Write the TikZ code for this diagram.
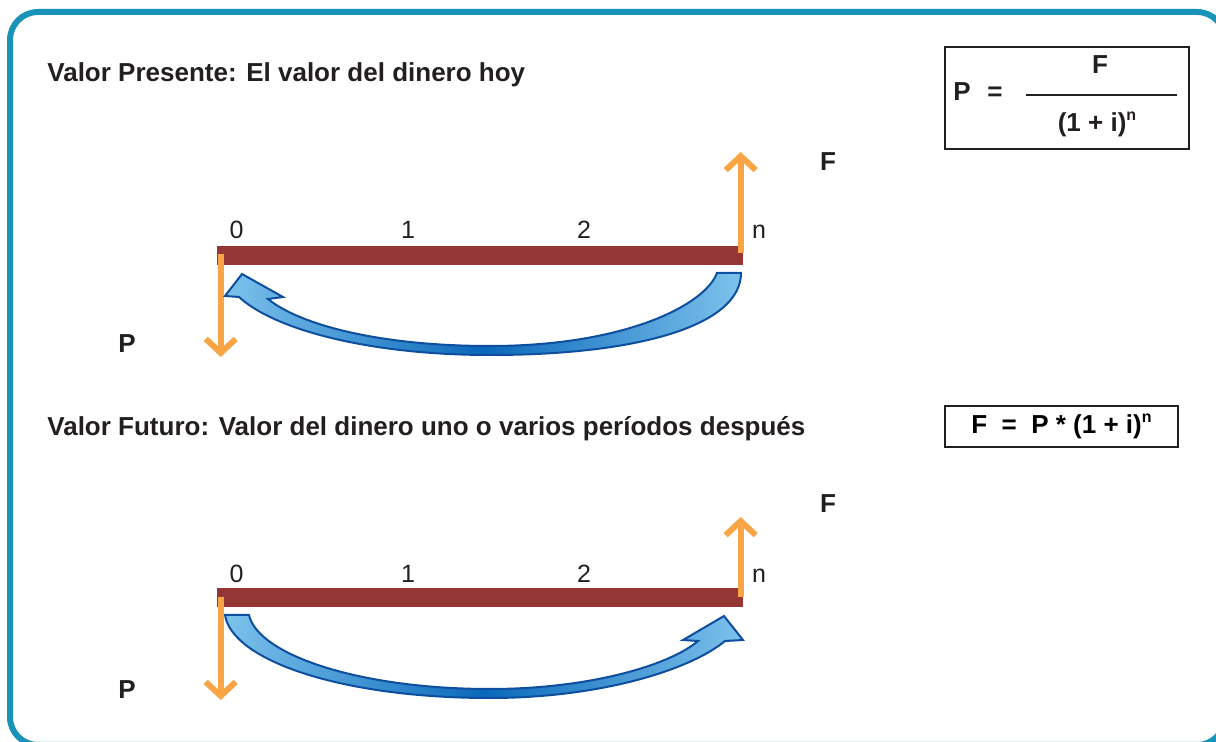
\documentclass[tikz,border=0pt]{standalone}
\usepackage{fontspec}
\setmainfont{Liberation Sans}
\usetikzlibrary{arrows.meta}
\definecolor{frameTeal}{HTML}{1A93B8}
\definecolor{barRed}{HTML}{943634}
\definecolor{cashOrange}{HTML}{F9A546}
\definecolor{flowLight}{HTML}{7CC2EC}
\definecolor{flowDark}{HTML}{0A68BA}
\definecolor{flowEdge}{HTML}{0E4E9E}
\definecolor{inkBlack}{HTML}{231F20}

\newcommand{\powN}{\raisebox{0.45em}{\fontsize{8}{9}\selectfont n}}

\tikzset{
  frame/.style={frameTeal, line width=3pt, rounded corners=14pt},
  timebar/.style={barRed, line width=9.5pt},
  cash/.style={cashOrange, line width=3pt, -{Straight Barb[length=7pt,width=15pt]}},
  flow/.style={draw=flowEdge, line width=1pt, left color=flowLight, right color=flowLight, middle color=flowDark},
  heading/.style={font=\fontsize{13}{15}\selectfont\bfseries, text=inkBlack, anchor=base west, inner sep=0pt},
  tick/.style={font=\fontsize{12.5}{15}\selectfont, text=inkBlack, anchor=base, inner sep=0pt},
  cashlbl/.style={font=\fontsize{13}{15}\selectfont\bfseries, text=inkBlack, anchor=base, inner sep=0pt},
  formula/.style={draw=inkBlack, line width=1pt, inner sep=0pt},
}

\begin{document}
\begin{tikzpicture}[x=0.5pt, y=-0.5pt]
  \useasboundingbox (0,0) rectangle (1216,742);
  \draw[frame] (10,12) rectangle (1225,745);

  % valor presente
  \node[heading] (titlePV) at (47,82) {Valor Presente: El valor del dinero hoy};
  \node[formula, minimum width=122pt, minimum height=51pt] (boxPV) at (1067,98) {};
  \node[cashlbl] (eqP) at (962,101) {P};
  \node[cashlbl] (eqEq) at (995,101) {=};
  \coordinate (fracL) at (1026,95);
  \coordinate (fracR) at (1177,95);
  \draw[inkBlack, line width=1.1pt] (fracL) -- (fracR);
  \node[cashlbl] (eqNum) at (1100,74) {F};
  \node[cashlbl] (eqDen) at (1097,132) {(1 + i)\powN};

  \coordinate (pvStart) at (217,255.5);
  \coordinate (pvEnd) at (743,255.5);
  \draw[timebar] (pvStart) -- (pvEnd);
  \foreach \x/\t in {236.7/0, 408/1, 584/2, 759/n}
    \node[tick] (pvTick\t) at (\x,239) {\t};

  \coordinate (pvPtop) at (220.7,254);
  \coordinate (pvPtip) at (220.7,357);
  \coordinate (pvFbot) at (740.7,253);
  \coordinate (pvFtip) at (740.7,152);
  \draw[cash] (pvPtop) -- (pvPtip);
  \draw[cash] (pvFbot) -- (pvFtip);
  \node[cashlbl] (pvF) at (828,171) {F};
  \node[cashlbl] (pvP) at (127,353) {P};

  \draw[flow] (741,273) .. controls (741,325) and (640,355) .. (490,355)
    .. controls (370,355) and (275,330) .. (239,297) -- (225,296) -- (242,274)
    -- (283,297) -- (268,299) .. controls (300,325) and (380,346) .. (490,346)
    .. controls (625,346) and (705,305) .. (717,273) -- cycle;

  % valor futuro
  \node[heading] (titleFV) at (47,436) {Valor Futuro: Valor del dinero uno o varios períodos después};
  \node[formula, minimum width=116.5pt, minimum height=20.5pt] (boxFV) at (1061.5,426.5)
    {\fontsize{13}{15}\selectfont\bfseries F\ \ =\ \ P * (1 + i)\powN};

  \coordinate (fvStart) at (217,598);
  \coordinate (fvEnd) at (743,598);
  \draw[timebar] (fvStart) -- (fvEnd);
  \foreach \x/\t in {236.7/0, 408/1, 584/2, 759/n}
    \node[tick] (fvTick\t) at (\x,583) {\t};

  \coordinate (fvPtop) at (220.7,597);
  \coordinate (fvPtip) at (220.7,700);
  \coordinate (fvFbot) at (740.7,597);
  \coordinate (fvFtip) at (740.7,517);
  \draw[cash] (fvPtop) -- (fvPtip);
  \draw[cash] (fvFbot) -- (fvFtip);
  \node[cashlbl] (fvF) at (828,513) {F};
  \node[cashlbl] (fvP) at (127,698) {P};

  \draw[flow] (225,615) .. controls (232,660) and (340,698) .. (490,698)
    .. controls (600,698) and (690,670) .. (725,641) -- (743,640) -- (724,616)
    -- (683,640) -- (698,641) .. controls (670,665) and (590,689) .. (490,689)
    .. controls (360,689) and (258,655) .. (249,615) -- cycle;
\end{tikzpicture}
\end{document}
